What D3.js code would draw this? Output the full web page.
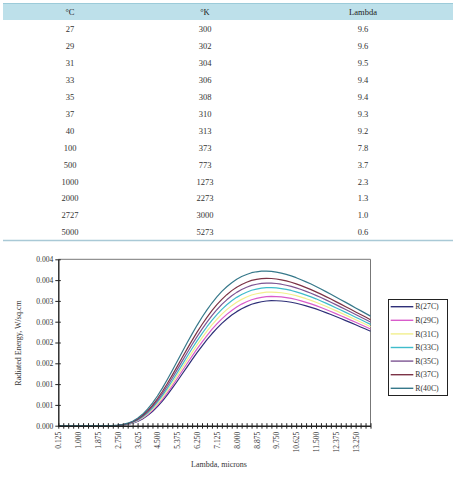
<!DOCTYPE html>
<html><head><meta charset="utf-8">
<script src="https://cdn.jsdelivr.net/npm/d3@7"></script>
<style>html,body{margin:0;padding:0;background:#fff;}svg{display:block;}</style>
</head><body>
<script>
// ---- Table data ----
const tableHeaders = ["°C", "°K", "Lambda"];
const celsius = ["27","29","31","33","35","37","40","100","500","1000","2000","2727","5000"];
const kelvin  = ["300","302","304","306","308","310","313","373","773","1273","2273","3000","5273"];
const lambdaPeak = ["9.6","9.6","9.5","9.4","9.4","9.3","9.2","7.8","3.7","2.3","1.3","1.0","0.6"];

// ---- Chart data ----
const lambdas = [0.125,0.34375,0.5625,0.78125,1,1.21875,1.4375,1.65625,1.875,2.09375,2.3125,2.53125,2.75,2.96875,3.1875,3.40625,3.625,3.84375,4.0625,4.28125,4.5,4.71875,4.9375,5.15625,5.375,5.59375,5.8125,6.03125,6.25,6.46875,6.6875,6.90625,7.125,7.34375,7.5625,7.78125,8,8.21875,8.4375,8.65625,8.875,9.09375,9.3125,9.53125,9.75,9.96875,10.1875,10.40625,10.625,10.84375,11.0625,11.28125,11.5,11.71875,11.9375,12.15625,12.375,12.59375,12.8125,13.03125,13.25,13.46875,13.6875,13.90625];
const xTickLabels = ["0.125","1.000","1.875","2.750","3.625","4.500","5.375","6.250","7.125","8.000","8.875","9.750","10.625","11.500","12.375","13.250"];
const yTickValues = [0,0.0005,0.001,0.0015,0.002,0.0025,0.003,0.0035,0.004];
const yTickLabels = ["0.000","0.001","0.001","0.002","0.002","0.003","0.003","0.004","0.004"];
const seriesNames = ["R(27C)","R(29C)","R(31C)","R(33C)","R(35C)","R(37C)","R(40C)"];
const seriesColors = ["#2e2f78","#d95ccb","#f2ef8e","#3fbccb","#7d5593","#7c3346","#36788a"];

const r27 = [0,0,0,0,0,0,0,0,0,0,0,
0.000002,0.000006,0.000015,0.000032,0.000060,0.000103,0.000163,0.000243,0.000341,0.000458,
0.000592,0.000742,0.000901,0.001069,0.001242,0.001415,0.001587,0.001755,0.001915,0.002067,
0.002210,0.002340,0.002460,0.002566,0.002660,0.002742,0.002812,0.002869,0.002919,0.002953,
0.002980,0.002997,0.003005,0.003004,0.002998,0.002985,0.002967,0.002943,0.002914,0.002881,
0.002845,0.002807,0.002763,0.002719,0.002673,0.002625,0.002577,0.002527,0.002477,0.002425,
0.002374,0.002323,0.002271];
const r29 = [0,0,0,0,0,0,0,0,0,0,0,
0.000002,0.000007,0.000017,0.000035,0.000066,0.000113,0.000177,0.000262,0.000368,0.000492,
0.000633,0.000791,0.000958,0.001134,0.001314,0.001495,0.001672,0.001846,0.002011,0.002167,
0.002314,0.002447,0.002568,0.002676,0.002771,0.002853,0.002923,0.002979,0.003028,0.003061,
0.003086,0.003101,0.003108,0.003105,0.003096,0.003080,0.003060,0.003033,0.003001,0.002966,
0.002928,0.002886,0.002841,0.002794,0.002746,0.002695,0.002644,0.002592,0.002539,0.002485,
0.002433,0.002379,0.002325];
const r31 = [0,0,0,0,0,0,0,0,0,0,0,
0.000002,0.000008,0.000019,0.000039,0.000072,0.000123,0.000193,0.000283,0.000396,0.000527,
0.000677,0.000843,0.001019,0.001202,0.001390,0.001578,0.001762,0.001941,0.002111,0.002272,
0.002422,0.002558,0.002681,0.002790,0.002886,0.002968,0.003037,0.003093,0.003141,0.003172,
0.003195,0.003209,0.003213,0.003207,0.003196,0.003178,0.003154,0.003125,0.003091,0.003053,
0.003012,0.002968,0.002919,0.002870,0.002819,0.002766,0.002712,0.002658,0.002603,0.002547,
0.002492,0.002437,0.002380];
const r33 = [0,0,0,0,0,0,0,0,0,0,0,
0.000003,0.000009,0.000021,0.000043,0.000079,0.000134,0.000209,0.000306,0.000425,0.000565,
0.000723,0.000897,0.001081,0.001273,0.001469,0.001664,0.001855,0.002039,0.002215,0.002379,
0.002532,0.002671,0.002796,0.002906,0.003003,0.003085,0.003153,0.003209,0.003255,0.003285,
0.003306,0.003317,0.003319,0.003311,0.003297,0.003277,0.003251,0.003218,0.003181,0.003140,
0.003097,0.003050,0.002999,0.002947,0.002893,0.002837,0.002781,0.002725,0.002667,0.002609,
0.002552,0.002494,0.002436];
const r35 = [0,0,0,0,0,0,0,0,0,0,0,
0.000003,0.000010,0.000023,0.000047,0.000087,0.000145,0.000226,0.000329,0.000457,0.000605,
0.000771,0.000954,0.001147,0.001347,0.001552,0.001754,0.001951,0.002141,0.002321,0.002490,
0.002647,0.002788,0.002915,0.003026,0.003123,0.003205,0.003273,0.003327,0.003372,0.003400,
0.003420,0.003428,0.003428,0.003418,0.003401,0.003377,0.003348,0.003313,0.003273,0.003229,
0.003183,0.003133,0.003080,0.003024,0.002968,0.002910,0.002851,0.002792,0.002732,0.002671,
0.002612,0.002552,0.002492];
const r37 = [0,0,0,0,0,0,0,0,0,0,0,
0.000003,0.000011,0.000025,0.000052,0.000095,0.000158,0.000244,0.000355,0.000490,0.000647,
0.000822,0.001014,0.001217,0.001426,0.001638,0.001847,0.002051,0.002248,0.002433,0.002605,
0.002765,0.002909,0.003038,0.003150,0.003247,0.003329,0.003396,0.003449,0.003493,0.003519,
0.003536,0.003542,0.003539,0.003526,0.003506,0.003480,0.003448,0.003410,0.003367,0.003320,
0.003271,0.003218,0.003162,0.003103,0.003045,0.002983,0.002922,0.002860,0.002798,0.002735,
0.002673,0.002611,0.002548];
const r40 = [0,0,0,0,0,0,0,0,0,0,0,
0.000005,0.000013,0.000029,0.000060,0.000108,0.000179,0.000274,0.000396,0.000544,0.000714,
0.000903,0.001110,0.001326,0.001548,0.001773,0.001994,0.002208,0.002413,0.002606,0.002784,
0.002949,0.003096,0.003228,0.003340,0.003438,0.003520,0.003586,0.003636,0.003678,0.003700,
0.003714,0.003716,0.003710,0.003692,0.003668,0.003636,0.003600,0.003558,0.003510,0.003458,
0.003405,0.003347,0.003286,0.003223,0.003161,0.003095,0.003030,0.002964,0.002898,0.002831,
0.002766,0.002700,0.002634];
const seriesValues = [r27, r29, r31, r33, r35, r37, r40];

const W = 456, H = 478;
const serif = "'Liberation Serif','Times New Roman',serif";
const svg = d3.select("body").append("svg").attr("width", W).attr("height", H)
  .style("font-family", serif);

// ---------- Table ----------
const tbl = svg.append("g");
const colX = [70, 205, 363];
tbl.append("rect").attr("x", 3).attr("y", 3).attr("width", 450).attr("height", 17)
  .attr("fill", "#bde0ea");
tbl.append("line").attr("x1", 3).attr("x2", 453).attr("y1", 3.5).attr("y2", 3.5)
  .attr("stroke", "#9ccbd9").attr("stroke-width", 1);
tbl.selectAll("text.h").data(tableHeaders).join("text").attr("class", "h")
  .attr("x", (d, i) => colX[i]).attr("y", 11.8).attr("dy", "0.35em")
  .attr("text-anchor", "middle").attr("font-size", 8.5).attr("fill", "#222").text(d => d);
const rowY = d3.scaleLinear().domain([0, 12]).range([29.3, 232.3]);
const rows = celsius.map((c, i) => [c, kelvin[i], lambdaPeak[i]]);
rows.forEach((r, i) => {
  r.forEach((v, j) => {
    tbl.append("text").attr("x", colX[j]).attr("y", rowY(i)).attr("dy", "0.35em")
      .attr("text-anchor", "middle").attr("font-size", 8.5).attr("fill", "#333").text(v);
  });
});
tbl.append("line").attr("x1", 3).attr("x2", 453).attr("y1", 240.5).attr("y2", 240.5)
  .attr("stroke", "#a9c9d6").attr("stroke-width", 1.5);

// ---------- Chart ----------
const L = 58.3, R = 370.5, T = 259.3, B = 425.7;
const x = d3.scalePoint().domain(lambdas).range([L, R]);
const y = d3.scaleLinear().domain([0, 0.004]).range([B, T]);

// frame top/right
svg.append("line").attr("x1", L).attr("x2", R).attr("y1", T).attr("y2", T)
  .attr("stroke", "#777").attr("stroke-width", 1);
svg.append("line").attr("x1", R).attr("x2", R).attr("y1", T).attr("y2", B)
  .attr("stroke", "#777").attr("stroke-width", 1);

// lines
const line = d3.line().x((d, i) => x(lambdas[i])).y(d => y(d));
seriesValues.forEach((vals, k) => {
  svg.append("path").datum(vals).attr("d", line).attr("fill", "none")
    .attr("stroke", seriesColors[k]).attr("stroke-width", 1.2).attr("stroke-linejoin", "round");
});

// y axis
const yAxis = d3.axisLeft(y).tickValues(yTickValues)
  .tickFormat((d, i) => yTickLabels[i]).tickSizeInner(3).tickSizeOuter(0).tickPadding(2);
const gy = svg.append("g").attr("transform", `translate(${L},0)`).call(yAxis);
gy.select(".domain").attr("stroke", "#222").attr("stroke-width", 1.4);
gy.selectAll(".tick line").attr("x1", -3).attr("x2", 2.5).attr("stroke", "#222");
gy.selectAll("text").attr("font-size", 7.6).attr("font-family", serif).attr("fill", "#333");

// x axis
const xAxis = d3.axisBottom(x).tickSizeInner(3).tickSizeOuter(0)
  .tickFormat((d, i) => (i % 4 === 0 ? xTickLabels[i / 4] : ""));
const gx = svg.append("g").attr("transform", `translate(0,${B})`).call(xAxis);
gx.select(".domain").attr("stroke", "#222").attr("stroke-width", 1.4);
gx.selectAll(".tick line").attr("y1", -2.5).attr("y2", 3).attr("stroke", "#222");
gx.selectAll("text").attr("font-size", 7.6).attr("font-family", serif).attr("fill", "#333")
  .attr("transform", "rotate(-90)").attr("text-anchor", "end")
  .attr("x", -6).attr("y", 0).attr("dy", "0.33em");

// axis titles
svg.append("text").attr("x", 219).attr("y", 464.5).attr("dy", "0.35em")
  .attr("text-anchor", "middle").attr("font-size", 8).attr("fill", "#333")
  .text("Lambda, microns");
svg.append("text").attr("transform", "translate(18,343) rotate(-90)").attr("dy", "0.35em")
  .attr("text-anchor", "middle").attr("font-size", 8).attr("fill", "#333")
  .text("Radiated Energy, W/sq.cm");

// legend
const lg = svg.append("g");
lg.append("rect").attr("x", 388.5).attr("y", 299.5).attr("width", 59).attr("height", 96)
  .attr("fill", "#fff").attr("stroke", "#222").attr("stroke-width", 1);
const ly = d3.scaleLinear().domain([0, 6]).range([306.7, 388.3]);
seriesNames.forEach((n, k) => {
  lg.append("line").attr("x1", 390.7).attr("x2", 413.3).attr("y1", ly(k)).attr("y2", ly(k))
    .attr("stroke", seriesColors[k]).attr("stroke-width", 1.4);
  lg.append("text").attr("x", 415.3).attr("y", ly(k)).attr("dy", "0.35em")
    .attr("font-size", 7.8).attr("fill", "#333").text(n);
});
</script>
</body></html>
